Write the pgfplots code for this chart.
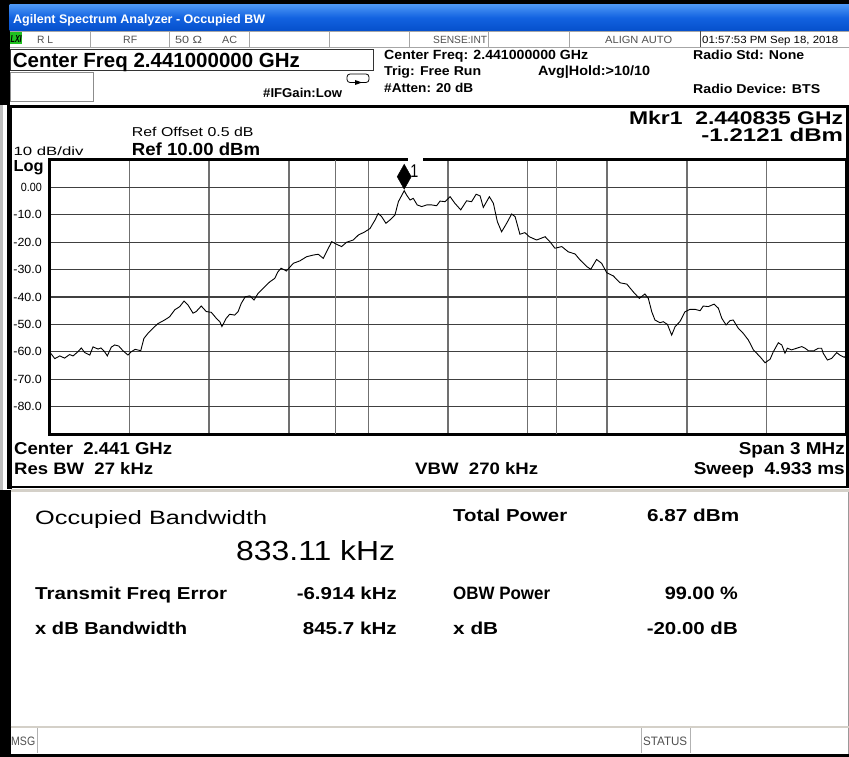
\documentclass[border=0pt]{standalone}
\usepackage{pgfplots}
\pgfplotsset{compat=1.18}
\usepackage{graphicx}
\usepackage{fontspec}
\setmainfont{Liberation Sans}
\newcommand{\T}[3]{\resizebox{#1pt}{#2pt}{#3}}
\definecolor{tbtop}{HTML}{4A95F5}
\definecolor{tbmid}{HTML}{1262E0}
\definecolor{tbbot}{HTML}{0650CC}
\definecolor{panelgray}{HTML}{D4D0C8}
\definecolor{gridv}{HTML}{707070}
\definecolor{gridh}{HTML}{404040}
\definecolor{lxigreen}{HTML}{20C020}
\definecolor{stat}{HTML}{505050}
\tikzset{L/.style={anchor=base west, inner sep=0pt}, R/.style={anchor=base east, inner sep=0pt}}
\begin{document}
\begin{tikzpicture}
\begin{scope}[x=1pt,y=-1pt]
\useasboundingbox (0,0) rectangle (849,757);
\fill[white] (0,0) rectangle (849,757);
% outer black frame pieces
\fill[black] (0,0) rectangle (849,5);
\fill[black] (0,0) rectangle (9.5,105);
% title bar
\shade[top color=tbtop, bottom color=tbbot, middle color=tbmid] (9.5,5) rectangle (849,30.5);
% status row
\draw[black!35, line width=0.8pt] (9.5,31) -- (849,31);
\draw[black!35, line width=0.8pt] (9.5,47.5) -- (849,47.5);
\foreach \xx in {90,169,249,329,409,488,569} \draw[black!35, line width=0.8pt] (\xx,31) -- (\xx,47.5);
\draw[black!70, line width=0.8pt] (700,31) -- (700,47.5);
\fill[lxigreen] (9.5,32) rectangle (22,44);
% center freq box and small box
\draw[black!80, line width=1pt] (10.5,49.5) rectangle (373,71);
\draw[black!45, line width=1pt] (10.5,73) rectangle (93,102);
% loop icon
\draw[black, line width=0.8pt, rounded corners=3pt] (347,74) rectangle (369,82.5);
\fill[black] (355,80) -- (362,82.5) -- (355,85) -- cycle;
% graph panel frame
\fill[black!25] (0,105) rectangle (3,490);
\draw[black, line width=3pt] (7,106.5) -- (849,106.5);
\draw[black, line width=5pt] (9.5,105) -- (9.5,489);
\draw[black, line width=2.5pt] (847.5,106) -- (847.5,488);
\draw[black, line width=2.5pt] (7,487) -- (849,487);
\fill[panelgray] (11,488.5) rectangle (849,492);
% lower panel
\fill[black] (0,490) rectangle (10.5,757);
\fill[black] (0,753.5) rectangle (849,757);
\draw[black!40, line width=0.8pt] (848.5,492) -- (848.5,754);
% status bar
\draw[panelgray, line width=2pt] (10.5,727) -- (849,727);
\foreach \xx in {37.5,641,690.5} \draw[black!30, line width=0.8pt] (\xx,728) -- (\xx,753);
\end{scope}

\begin{axis}[
  at={(50pt,-434pt)}, anchor=south west,
  scale only axis, width=796pt, height=274pt,
  xmin=-1500, xmax=1500, ymin=-90, ymax=10,
  xtick={-1200,-900,...,1200}, xticklabels={},
  ytick={-80,-70,...,0},
  yticklabels={{\T{28.4}{8.3}{-80.0}},{\T{28.4}{8.3}{-70.0}},{\T{28.4}{8.3}{-60.0}},{\T{28.4}{8.3}{-50.0}},{\T{28.4}{8.3}{-40.0}},{\T{28.4}{8.3}{-30.0}},{\T{28.4}{8.3}{-20.0}},{\T{28.4}{8.3}{-10.0}},{\T{21}{8.3}{0.00}}},
  yticklabel style={anchor=east, inner sep=0pt, xshift=-8pt},
  major tick length=0pt,
  grid=major,
  x grid style={gridv, line width=1.5pt},
  y grid style={gridh, line width=1.2pt},
  axis line style={black, line width=3pt},
]
% occupied bandwidth boundaries (centre error -6.914 kHz, OBW 833.11 kHz)
\addplot[gridv, line width=1.5pt] coordinates {(-423.5,-90) (-423.5,10)};
\addplot[gridv, line width=1.5pt] coordinates {(409.6,-90) (409.6,10)};
% trace (offset from 2.441 GHz in kHz, dBm)
\addplot[black, line width=0.9pt] coordinates {
(-1500,-60.2) (-1482,-62.5) (-1463,-61.5) (-1445,-62.3) (-1426,-61.0) (-1413,-61.5) (-1395,-60.0) (-1382,-58.6) (-1369,-60.3) (-1350,-61.2) (-1338,-58.2) (-1319,-59.0) (-1308,-58.6) (-1294,-60.0) (-1284,-61.5) (-1269,-58.3) (-1256,-57.5) (-1241,-57.9) (-1225,-59.6) (-1206,-61.2) (-1194,-60.0) (-1179,-59.1) (-1158,-59.6) (-1146,-55.1) (-1131,-53.3) (-1112,-51.4) (-1093,-49.7) (-1068,-48.4) (-1049,-47.2) (-1030,-44.7) (-1011,-43.5) (-995,-41.5) (-980,-42.9) (-961,-45.9) (-949,-45.3) (-930,-43.3) (-911,-45.3) (-892,-45.6) (-873,-47.8) (-860,-49.0) (-852,-50.8) (-836,-47.8) (-823,-46.3) (-804,-46.6) (-791,-45.3) (-779,-42.3) (-764,-39.9) (-747,-39.6) (-731,-41.1) (-716,-38.7) (-691,-36.3) (-672,-34.5) (-653,-33.2) (-641,-30.8) (-629,-29.5) (-609,-30.5) (-583,-27.7) (-558,-26.8) (-533,-25.3) (-508,-24.7) (-489,-24.4) (-470,-25.9) (-451,-22.2) (-438,-19.8) (-419,-20.8) (-401,-21.6) (-382,-20.0) (-357,-19.2) (-338,-17.4) (-313,-16.2) (-294,-15.0) (-275,-11.9) (-263,-9.5) (-250,-10.7) (-234,-13.1) (-219,-11.9) (-200,-10.1) (-187,-5.2) (-165,-1.2121) (-156,-2.8) (-143,-4.6) (-131,-4.0) (-116,-6.4) (-99,-7.0) (-80,-6.4) (-61,-6.4) (-43,-6.7) (-30,-5.0) (-11,-5.2) (8,-3.4) (26,-5.8) (48,-8.2) (70,-4.9) (89,-5.2) (106,-2.5) (121,-3.1) (133,-7.3) (156,-3.4) (171,-5.8) (186,-12.5) (202,-16.2) (221,-13.1) (240,-9.7) (253,-10.7) (271,-17.1) (290,-16.5) (306,-18.0) (334,-19.2) (366,-18.0) (384,-19.8) (403,-22.2) (429,-21.6) (453,-23.5) (479,-24.3) (498,-26.5) (523,-28.9) (538,-29.9) (560,-26.3) (579,-27.7) (598,-31.1) (623,-32.3) (648,-34.8) (674,-35.3) (698,-38.1) (721,-40.5) (742,-38.9) (755,-40.5) (768,-45.4) (780,-48.4) (799,-49.4) (811,-49.0) (827,-50.0) (843,-53.9) (856,-50.8) (874,-49.0) (893,-45.4) (912,-44.5) (931,-44.5) (950,-45.0) (962,-43.3) (981,-43.5) (1003,-42.6) (1019,-44.1) (1032,-47.8) (1048,-50.2) (1063,-48.6) (1075,-48.4) (1094,-51.4) (1113,-53.3) (1132,-55.7) (1151,-59.3) (1176,-61.8) (1195,-64.0) (1214,-62.7) (1226,-60.0) (1245,-56.7) (1258,-57.5) (1270,-60.5) (1279,-58.7) (1295,-59.3) (1314,-58.7) (1333,-58.1) (1346,-58.7) (1358,-59.6) (1377,-59.7) (1396,-58.7) (1408,-58.7) (1414,-60.5) (1430,-63.0) (1446,-62.4) (1465,-60.3) (1477,-61.2) (1493,-62.0) (1500,-61.5)
};
% marker 1
\addplot[only marks, mark=diamond*, mark size=12.5pt, mark options={draw=black, fill=black, xscale=0.75, yshift=14pt}] coordinates {(-165,-1.2121)};
\node[anchor=base west, inner sep=0pt, xshift=6pt, yshift=13pt] at (axis cs:-165,-1.2121) {\T{8}{12.7}{1}};
\end{axis}

\begin{scope}[x=1pt,y=-1pt]
% gap in top frame above marker label
\fill[white] (408,157.5) rectangle (423,162.5);
% title bar
\node[L, white] at (13,23.3) {\T{252}{9}{\bfseries Agilent Spectrum Analyzer - Occupied BW}};
% status row
\node[L] at (10.5,42.5) {\T{11}{7}{\bfseries\itshape LXI}};
\node[L, stat] at (37,43.3) {\T{16}{7.3}{R L}};
\node[L, stat] at (123,43.3) {\T{14}{7.3}{RF}};
\node[L, stat] at (175,43.3) {\T{27}{7.3}{50 Ω}};
\node[L, stat] at (222,43.3) {\T{15}{7.3}{AC}};
\node[L, stat] at (433,43.3) {\T{54}{7.3}{SENSE:INT}};
\node[L, stat] at (605,43.3) {\T{67}{7.3}{ALIGN AUTO}};
\node[L, black] at (702,43.3) {\T{136}{7.3}{01:57:53 PM Sep 18, 2018}};
% second row
\node[L] at (12.7,67.3) {\T{287}{14.3}{\bfseries Center Freq 2.441000000 GHz}};
\node[L] at (263,97.7) {\T{79}{9.3}{\bfseries \#IFGain:Low}};
\node[L] at (384,59.5) {\T{204}{9.3}{\bfseries Center Freq: 2.441000000 GHz}};
\node[L] at (384,76) {\T{97}{9.3}{\bfseries Trig: Free Run}};
\node[L] at (384,93) {\T{89}{9.3}{\bfseries \#Atten: 20 dB}};
\node[L] at (538,76) {\T{112}{9.8}{\bfseries Avg|Hold:>10/10}};
\node[L] at (693,59.5) {\T{111}{9.3}{\bfseries Radio Std: None}};
\node[L] at (693,93.5) {\T{127}{9.3}{\bfseries Radio Device: BTS}};
% graph panel
\node[L] at (131.7,136.7) {\T{121.6}{9.3}{Ref Offset 0.5 dB}};
\node[L] at (131.7,155) {\T{128.3}{12.7}{\bfseries Ref 10.00 dBm}};
\node[L] at (13.3,155.3) {\T{70}{8.7}{10 dB/div}};
\node[L] at (13.3,171.7) {\T{30}{11}{\bfseries Log}};
\node[R] at (843.3,125) {\T{214}{13.3}{\bfseries Mkr1\ \ 2.440835 GHz}};
\node[R] at (843.3,141.7) {\T{141.6}{13.3}{\bfseries -1.2121 dBm}};
\node[L] at (14,454) {\T{158}{12}{\bfseries Center\ \ 2.441 GHz}};
\node[R] at (845,454) {\T{106}{12}{\bfseries Span 3 MHz}};
\node[L] at (14,474) {\T{139}{12}{\bfseries Res BW\ \ 27 kHz}};
\node[L] at (415,474) {\T{123}{12}{\bfseries VBW\ \ 270 kHz}};
\node[R] at (845,474) {\T{151}{12}{\bfseries Sweep\ \ 4.933 ms}};
% lower panel
\node[L] at (35,524.5) {\T{232}{14}{Occupied Bandwidth}};
\node[L] at (236,560) {\T{159}{20}{833.11 kHz}};
\node[L] at (453,521) {\T{114}{12.5}{\bfseries Total Power}};
\node[L] at (647,521) {\T{92}{12.5}{\bfseries 6.87 dBm}};
\node[L] at (35,599) {\T{192}{12.5}{\bfseries Transmit Freq Error}};
\node[R] at (397,599) {\T{100}{12.5}{\bfseries -6.914 kHz}};
\node[L] at (453,599) {\T{97}{12.5}{\bfseries OBW Power}};
\node[R] at (738,599) {\T{73}{12.5}{\bfseries 99.00 \%}};
\node[L] at (35,634) {\T{152}{12.5}{\bfseries x dB Bandwidth}};
\node[R] at (397,634) {\T{94}{12.5}{\bfseries 845.7 kHz}};
\node[L] at (453,634) {\T{45}{12.5}{\bfseries x dB}};
\node[R] at (738,634) {\T{91}{12.5}{\bfseries -20.00 dB}};
% status bar
\node[L, stat] at (11,745) {\T{24}{8.5}{MSG}};
\node[L, stat] at (643,745) {\T{44}{8.5}{STATUS}};
\end{scope}
\end{tikzpicture}
\end{document}
